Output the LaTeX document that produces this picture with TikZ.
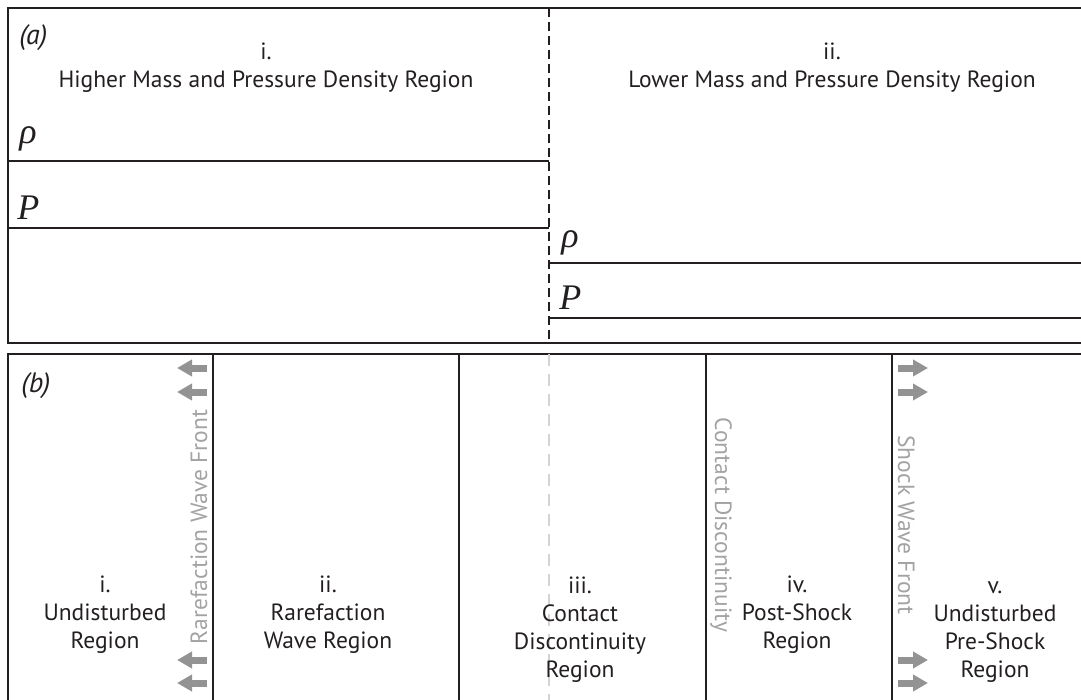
\documentclass[tikz,border=0pt]{standalone}
\usepackage{fontspec}
\setmainfont{PT Sans}
\newfontfamily\symfont{Liberation Serif}
\usetikzlibrary{arrows.meta}
\definecolor{ink}{HTML}{231F20}
\definecolor{frontgrey}{HTML}{A3A3A3}
\definecolor{arrowgrey}{HTML}{939393}
\definecolor{dashgrey}{HTML}{D4D4D4}
\begin{document}
\begin{tikzpicture}[x=1pt,y=-1pt,line width=2.8pt,
    label/.style={inner sep=0pt, anchor=base, align=center, font=\fontsize{23.5}{28}\selectfont, text=ink},
    panel/.style={inner sep=0pt, anchor=base west, font=\fontsize{28}{28}\selectfont\itshape, text=ink},
    var/.style={inner sep=0pt, anchor=base west, font=\fontsize{36}{36}\symfont\itshape, text=ink},
    front/.style={inner sep=0pt, anchor=base, font=\fontsize{23.5}{28}\selectfont, text=frontgrey},
    wave/.style={draw=arrowgrey, line width=7pt, -{Triangle[length=15pt,width=16pt]}}]

        \useasboundingbox (0,0) rectangle (1081,700);

        \begin{scope}[draw=ink, line join=miter]
          \draw (1081,8) -- (8,8) -- (8,343) -- (1081,343);
          \draw (8,161) -- (549,161);
          \draw (8,228) -- (549,228);
          \draw (549,263) -- (1081,263);
          \draw (549,318) -- (1081,318);
          \draw[line width=2.6pt, dash pattern=on 9pt off 5pt] (549,8) -- (549,343);

          \draw (1081,354) -- (8,354) -- (8,700);
          \draw[dashgrey, dash pattern=on 12pt off 8pt] (549,354) -- (549,700);
          \foreach \x in {213,459,706,892}
            \draw (\x,354) -- (\x,700);
        \end{scope}

        \node[panel] (a) at (18,45) {(a)};
        \node[label] (high) at (266,88) {i.\\Higher Mass and Pressure Density Region};
        \node[label] (low)  at (832,88) {ii.\\Lower Mass and Pressure Density Region};

        \node[var] (rho1) at (18,144) {ρ};
        \node[var] (p1)   at (16,220) {P};
        \node[var] (rho2) at (560,248) {ρ};
        \node[var] (p2)   at (558,310) {P};

        \node[panel] (b) at (20,392) {(b)};
        \node[label] (r1) at (105,648) {i.\\Undisturbed\\Region};
        \node[label] (r2) at (328,648) {ii.\\Rarefaction\\Wave Region};
        \node[label] (r3) at (580,677) {iii.\\Contact\\Discontinuity\\Region};
        \node[label] (r4) at (797,648) {iv.\\Post-Shock\\Region};
        \node[label] (r5) at (995,677) {v.\\Undisturbed\\Pre-Shock\\Region};

        \node[front, rotate=90]  (f1) at (207,527) {Rarefaction Wave Front};
        \node[front, rotate=-90] (f2) at (715,525) {Contact Discontinuity};
        \node[front, rotate=-90] (f3) at (898,525) {Shock Wave Front};

        \foreach \y in {368,392,660,683} {
          \draw[wave] (207,\y) -- (177,\y);
          \draw[wave] (898,\y) -- (928,\y);
        }

      \end{tikzpicture}
\end{document}
